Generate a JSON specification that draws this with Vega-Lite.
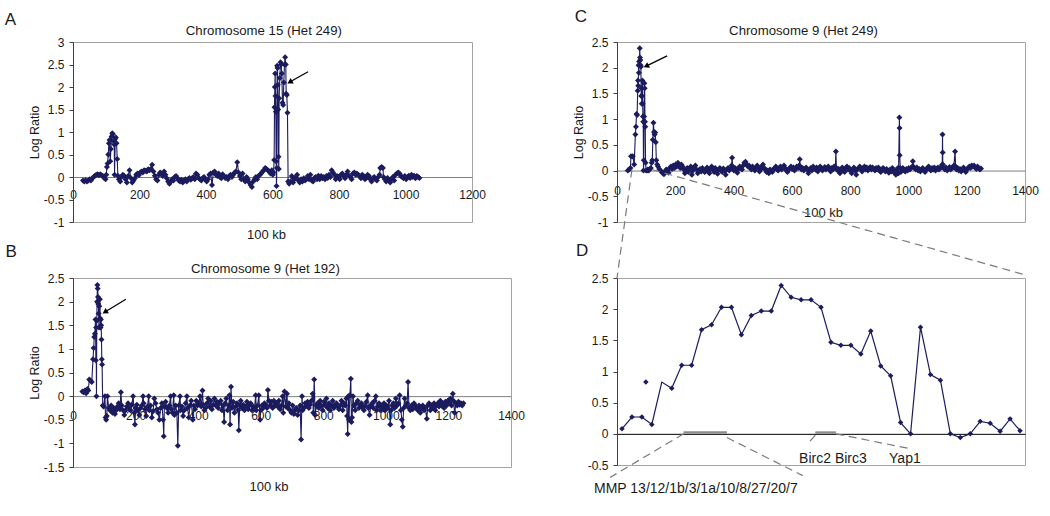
{
"$schema": "https://vega.github.io/schema/vega-lite/v6.json",
"padding": {"left": 4, "top": 7, "right": 5, "bottom": 5},
"config": {
  "font": "Liberation Sans",
  "locale": {"number": {"decimal": ".", "thousands": ",", "grouping": [3], "currency": ["$", ""], "minus": "-"}},
  "view": {"stroke": "#a3a3a3", "strokeWidth": 1},
  "axis": {"grid": false, "labelFontSize": 12, "titleFontSize": 12.5, "titleFontWeight": "normal", "labelColor": "#1a1a1a", "titleColor": "#1a1a1a"},
  "axisY": {"domainColor": "#404040", "tickColor": "#404040", "tickSize": 4, "labelPadding": 5, "titlePadding": 2, "labelOverlap": false, "labelBound": false, "format": "~g"},
  "axisX": {"ticks": false, "tickSize": 0, "domainColor": "#808080", "labelFlush": false, "labelOverlap": false, "titleFontSize": 13}
},
"datasets": {
"chr15_het249": [
{"x":30,"y":-0.08},{"x":34,"y":-0.1},{"x":38,"y":-0.07},{"x":42,"y":-0.1},{"x":46,"y":-0.08},{"x":50,"y":-0.05},{"x":54,"y":-0.08},{"x":58,"y":-0.03},{"x":62,"y":0},{"x":66,"y":0.03},{"x":70,"y":0.05},{"x":74,"y":0.06},{"x":78,"y":0.04},{"x":82,"y":0.06},{"x":86,"y":0.04},{"x":90,"y":0.02},{"x":94,"y":-0.02},{"x":98,"y":-0.05},{"x":100,"y":0.05},{"x":102,"y":0.22},{"x":104,"y":0.3},{"x":106,"y":0.5},{"x":108,"y":0.75},{"x":110,"y":0.82},{"x":112,"y":0.35},{"x":114,"y":0.62},{"x":116,"y":0.9},{"x":118,"y":0.97},{"x":120,"y":0.95},{"x":122,"y":0.8},{"x":124,"y":0.72},{"x":125,"y":0.05},{"x":127,"y":0.85},{"x":129,"y":0.88},{"x":131,"y":0.75},{"x":133,"y":0.4},{"x":135,"y":0.03},{"x":138,"y":-0.05},{"x":142,"y":-0.1},{"x":146,"y":0},{"x":150,"y":0.05},{"x":154,"y":0.02},{"x":158,"y":-0.05},{"x":162,"y":-0.12},{"x":166,"y":0.02},{"x":170,"y":0.15},{"x":174,"y":-0.02},{"x":178,"y":-0.12},{"x":182,"y":-0.08},{"x":186,"y":-0.03},{"x":190,"y":0.05},{"x":194,"y":0.08},{"x":198,"y":0.04},{"x":202,"y":0.1},{"x":206,"y":0.12},{"x":210,"y":0.1},{"x":214,"y":0.15},{"x":218,"y":0.14},{"x":222,"y":0.12},{"x":226,"y":0.17},{"x":230,"y":0.15},{"x":234,"y":0.18},{"x":238,"y":0.27},{"x":242,"y":0.12},{"x":246,"y":0.03},{"x":250,"y":-0.05},{"x":254,"y":-0.08},{"x":258,"y":0.05},{"x":262,"y":0.1},{"x":266,"y":0.08},{"x":270,"y":0.02},{"x":274,"y":0.12},{"x":278,"y":0.05},{"x":282,"y":-0.03},{"x":286,"y":-0.1},{"x":290,"y":-0.15},{"x":294,"y":-0.1},{"x":298,"y":-0.05},{"x":302,"y":-0.08},{"x":306,"y":0},{"x":310,"y":0.02},{"x":314,"y":-0.02},{"x":318,"y":-0.08},{"x":322,"y":-0.1},{"x":326,"y":-0.06},{"x":330,"y":-0.12},{"x":334,"y":-0.08},{"x":338,"y":-0.05},{"x":342,"y":-0.1},{"x":346,"y":-0.05},{"x":350,"y":-0.02},{"x":354,"y":-0.06},{"x":358,"y":-0.03},{"x":362,"y":0},{"x":366,"y":-0.05},{"x":370,"y":0.08},{"x":374,"y":0.05},{"x":378,"y":-0.02},{"x":382,"y":-0.05},{"x":386,"y":-0.08},{"x":390,"y":-0.03},{"x":394,"y":0},{"x":398,"y":-0.05},{"x":402,"y":-0.1},{"x":406,"y":-0.05},{"x":410,"y":0.05},{"x":414,"y":0.08},{"x":418,"y":-0.18},{"x":422,"y":0.1},{"x":426,"y":0.12},{"x":430,"y":0.05},{"x":434,"y":0.02},{"x":438,"y":0.08},{"x":442,"y":0},{"x":446,"y":-0.03},{"x":450,"y":0.06},{"x":454,"y":0.02},{"x":458,"y":-0.02},{"x":462,"y":0},{"x":466,"y":-0.05},{"x":470,"y":0.02},{"x":474,"y":0.05},{"x":478,"y":0},{"x":482,"y":0.05},{"x":486,"y":0.1},{"x":490,"y":0.12},{"x":494,"y":0.33},{"x":498,"y":0.1},{"x":502,"y":0.02},{"x":506,"y":-0.05},{"x":510,"y":0.08},{"x":514,"y":-0.05},{"x":518,"y":-0.1},{"x":522,"y":0},{"x":526,"y":-0.05},{"x":530,"y":-0.12},{"x":534,"y":-0.18},{"x":538,"y":-0.22},{"x":542,"y":-0.1},{"x":546,"y":-0.05},{"x":550,"y":0},{"x":554,"y":-0.05},{"x":558,"y":0.02},{"x":562,"y":0.05},{"x":566,"y":0.08},{"x":570,"y":0.12},{"x":574,"y":0.15},{"x":578,"y":0.2},{"x":582,"y":0.18},{"x":586,"y":0.15},{"x":590,"y":0.12},{"x":594,"y":0.08},{"x":598,"y":0.15},{"x":601,"y":0.05},{"x":603,"y":0.1},{"x":605,"y":0.38},{"x":606,"y":1.55},{"x":607,"y":2},{"x":608,"y":2.3},{"x":609,"y":1.8},{"x":610,"y":1.45},{"x":611,"y":0.35},{"x":612,"y":-0.2},{"x":613,"y":0.2},{"x":614,"y":2.47},{"x":615,"y":2.42},{"x":616,"y":2.05},{"x":617,"y":1.5},{"x":618,"y":0.45},{"x":619,"y":0.18},{"x":620,"y":1.75},{"x":622,"y":2.2},{"x":624,"y":2.55},{"x":626,"y":2.5},{"x":628,"y":2.3},{"x":630,"y":1.65},{"x":632,"y":1.6},{"x":634,"y":2.1},{"x":636,"y":2.5},{"x":638,"y":2.66},{"x":640,"y":2.5},{"x":641,"y":1.85},{"x":643,"y":1.82},{"x":645,"y":1.43},{"x":647,"y":-0.1},{"x":650,"y":-0.15},{"x":654,"y":-0.1},{"x":658,"y":0.02},{"x":662,"y":-0.12},{"x":666,"y":-0.05},{"x":670,"y":0},{"x":674,"y":0.05},{"x":678,"y":-0.08},{"x":682,"y":-0.12},{"x":686,"y":-0.05},{"x":690,"y":-0.1},{"x":694,"y":-0.03},{"x":698,"y":-0.08},{"x":702,"y":-0.05},{"x":706,"y":0.02},{"x":710,"y":-0.05},{"x":714,"y":0.05},{"x":718,"y":-0.08},{"x":722,"y":-0.1},{"x":726,"y":-0.02},{"x":730,"y":0},{"x":734,"y":-0.05},{"x":738,"y":0.03},{"x":742,"y":-0.05},{"x":746,"y":0.02},{"x":750,"y":-0.03},{"x":754,"y":0},{"x":758,"y":-0.05},{"x":762,"y":0.02},{"x":766,"y":-0.02},{"x":770,"y":0.05},{"x":774,"y":0},{"x":778,"y":0.15},{"x":782,"y":0.1},{"x":786,"y":0.05},{"x":790,"y":-0.05},{"x":794,"y":0.02},{"x":798,"y":0},{"x":802,"y":-0.05},{"x":806,"y":0.05},{"x":810,"y":0.08},{"x":814,"y":0.02},{"x":818,"y":-0.03},{"x":822,"y":0.05},{"x":826,"y":0.12},{"x":830,"y":0.03},{"x":834,"y":0},{"x":838,"y":-0.05},{"x":842,"y":0.08},{"x":846,"y":0.1},{"x":850,"y":0.05},{"x":854,"y":0.08},{"x":858,"y":0.05},{"x":862,"y":0.02},{"x":866,"y":-0.03},{"x":870,"y":0.05},{"x":874,"y":0.02},{"x":878,"y":-0.05},{"x":882,"y":-0.02},{"x":886,"y":0.05},{"x":890,"y":0.02},{"x":894,"y":-0.05},{"x":898,"y":-0.1},{"x":902,"y":-0.03},{"x":906,"y":0},{"x":910,"y":-0.05},{"x":914,"y":-0.08},{"x":918,"y":0},{"x":922,"y":0.05},{"x":924,"y":0.2},{"x":928,"y":0.22},{"x":932,"y":0.2},{"x":934,"y":0},{"x":938,"y":-0.05},{"x":942,"y":-0.1},{"x":946,"y":-0.02},{"x":950,"y":-0.08},{"x":954,"y":-0.12},{"x":958,"y":-0.05},{"x":962,"y":0},{"x":966,"y":-0.08},{"x":970,"y":0.05},{"x":974,"y":0.08},{"x":978,"y":0.1},{"x":982,"y":0.08},{"x":986,"y":0.02},{"x":990,"y":0},{"x":994,"y":-0.03},{"x":998,"y":0.02},{"x":1002,"y":-0.05},{"x":1006,"y":0},{"x":1010,"y":0.03},{"x":1014,"y":-0.02},{"x":1018,"y":0.05},{"x":1022,"y":0},{"x":1026,"y":0.03},{"x":1030,"y":-0.03},{"x":1034,"y":0.02},{"x":1038,"y":0},{"x":1042,"y":-0.02}
],
"chr9_het192": [
{"x":30,"y":0.1},{"x":34,"y":0.08},{"x":38,"y":0.12},{"x":42,"y":0.06},{"x":46,"y":0.15},{"x":49,"y":0.12},{"x":52,"y":0.35},{"x":56,"y":0.33},{"x":60,"y":0.3},{"x":64,"y":0.78},{"x":66,"y":1.02},{"x":68,"y":1.25},{"x":70,"y":1.32},{"x":72,"y":1.62},{"x":73,"y":0.76},{"x":74,"y":1.45},{"x":75,"y":0},{"x":76,"y":1.6},{"x":77,"y":2},{"x":78,"y":2.35},{"x":79,"y":2.28},{"x":80,"y":2.1},{"x":81,"y":1.95},{"x":82,"y":1.75},{"x":83,"y":1.45},{"x":84,"y":1.9},{"x":86,"y":2.05},{"x":87,"y":1.65},{"x":88,"y":1.45},{"x":89,"y":1.62},{"x":90,"y":1.5},{"x":91,"y":1.2},{"x":92,"y":0.78},{"x":93,"y":0.67},{"x":95,"y":-0.2},
{"x":98,"y":-0.22},{"x":102,"y":0},{"x":104,"y":-0.45},{"x":106,"y":-0.5},{"x":108,"y":-0.42},{"x":110,"y":0},{"x":114,"y":-0.25},{"x":118,"y":-0.3},{"x":122,"y":-0.2},{"x":126,"y":-0.35},{"x":130,"y":-0.25},{"x":134,"y":-0.38},{"x":138,"y":-0.3},{"x":142,"y":-0.22},{"x":146,"y":-0.15},{"x":150,"y":-0.28},{"x":153,"y":0.08},{"x":156,"y":-0.2},{"x":160,"y":-0.3},{"x":164,"y":-0.4},{"x":168,"y":-0.3},{"x":172,"y":-0.22},{"x":176,"y":-0.15},{"x":180,"y":-0.25},{"x":184,"y":-0.3},{"x":188,"y":-0.18},{"x":192,"y":0},{"x":196,"y":-0.35},{"x":198,"y":-0.6},{"x":200,"y":-0.25},{"x":204,"y":-0.18},{"x":208,"y":-0.3},{"x":212,"y":-0.4},{"x":216,"y":-0.25},{"x":220,"y":-0.2},{"x":224,"y":0},{"x":226,"y":-0.15},{"x":230,"y":-0.28},{"x":234,"y":-0.42},{"x":238,"y":-0.22},{"x":242,"y":0},{"x":244,"y":-0.3},{"x":248,"y":-0.2},{"x":252,"y":-0.45},{"x":256,"y":-0.32},{"x":260,"y":-0.05},{"x":264,"y":-0.15},{"x":268,"y":-0.28},{"x":272,"y":-0.35},{"x":276,"y":-0.5},{"x":280,"y":-0.25},{"x":284,"y":-0.15},{"x":288,"y":-0.5},{"x":290,"y":-0.85},{"x":292,"y":-0.22},{"x":296,"y":-0.12},{"x":300,"y":-0.25},{"x":304,"y":-0.35},{"x":308,"y":-0.2},{"x":312,"y":0},{"x":314,"y":-0.28},{"x":318,"y":-0.35},{"x":322,"y":0.02},{"x":324,"y":-0.4},{"x":328,"y":-0.2},{"x":332,"y":-0.35},{"x":335,"y":-1.05},{"x":338,"y":-0.2},{"x":342,"y":0},{"x":344,"y":-0.3},{"x":348,"y":-0.22},{"x":352,"y":-0.42},{"x":356,"y":-0.3},{"x":360,"y":-0.15},{"x":364,"y":0},{"x":366,"y":-0.25},{"x":370,"y":-0.45},{"x":374,"y":-0.2},{"x":378,"y":-0.1},{"x":383,"y":-0.5},{"x":386,"y":-0.2},{"x":390,"y":-0.28},{"x":394,"y":-0.1},{"x":398,"y":-0.2},{"x":402,"y":-0.15},{"x":406,"y":0},{"x":410,"y":-0.22},{"x":414,"y":0.12},{"x":416,"y":-0.18},{"x":420,"y":-0.3},{"x":424,"y":-0.25},{"x":428,"y":-0.15},{"x":432,"y":-0.05},{"x":436,"y":-0.22},{"x":440,"y":-0.1},{"x":444,"y":-0.28},{"x":448,"y":-0.18},{"x":452,"y":-0.05},{"x":456,"y":-0.2},{"x":460,"y":-0.12},{"x":464,"y":-0.25},{"x":468,"y":-0.15},{"x":472,"y":-0.1},{"x":476,"y":-0.3},{"x":480,"y":-0.2},{"x":483,"y":-0.55},{"x":486,"y":-0.15},{"x":490,"y":-0.05},{"x":494,"y":-0.3},{"x":498,"y":-0.2},{"x":500,"y":0.02},{"x":502,"y":-0.6},{"x":505,"y":0.2},{"x":508,"y":-0.25},{"x":512,"y":-0.12},{"x":516,"y":-0.35},{"x":520,"y":-0.22},{"x":524,"y":-0.15},{"x":528,"y":-0.3},{"x":530,"y":-0.72},{"x":533,"y":-0.2},{"x":536,"y":-0.1},{"x":540,"y":-0.25},{"x":544,"y":-0.18},{"x":548,"y":-0.3},{"x":552,"y":-0.22},{"x":556,"y":-0.12},{"x":560,"y":-0.28},{"x":564,"y":-0.2},{"x":568,"y":-0.15},{"x":572,"y":-0.3},{"x":576,"y":-0.22},{"x":580,"y":-0.25},{"x":584,"y":0.02},{"x":586,"y":-0.3},{"x":590,"y":-0.2},{"x":594,"y":0.02},{"x":598,"y":-0.5},{"x":600,"y":-0.3},{"x":604,"y":-0.2},{"x":608,"y":-0.25},{"x":612,"y":-0.15},{"x":616,"y":-0.2},{"x":620,"y":-0.25},{"x":623,"y":0.13},{"x":626,"y":-0.1},{"x":630,"y":-0.2},{"x":634,"y":-0.12},{"x":638,"y":-0.25},{"x":642,"y":-0.1},{"x":646,"y":-0.2},{"x":650,"y":-0.15},{"x":654,"y":-0.22},{"x":658,"y":-0.1},{"x":662,"y":-0.28},{"x":666,"y":-0.2},{"x":670,"y":0},{"x":672,"y":-0.35},{"x":676,"y":0.1},{"x":680,"y":-0.22},{"x":684,"y":0.05},{"x":686,"y":-0.25},{"x":690,"y":-0.15},{"x":694,"y":-0.3},{"x":698,"y":-0.35},{"x":702,"y":-0.2},{"x":706,"y":-0.38},{"x":710,"y":-0.3},{"x":714,"y":-0.25},{"x":718,"y":-0.4},{"x":722,"y":-0.3},{"x":726,"y":-0.2},{"x":729,"y":-0.92},{"x":732,"y":0},{"x":734,"y":-0.3},{"x":738,"y":-0.25},{"x":742,"y":-0.15},{"x":746,"y":-0.2},{"x":750,"y":-0.12},{"x":754,"y":-0.25},{"x":758,"y":-0.18},{"x":762,"y":-0.1},{"x":766,"y":0.05},{"x":768,"y":-0.35},{"x":771,"y":0.35},{"x":774,"y":-0.4},{"x":778,"y":-0.2},{"x":782,"y":-0.15},{"x":786,"y":-0.25},{"x":790,"y":-0.1},{"x":794,"y":-0.2},{"x":798,"y":-0.3},{"x":802,"y":-0.12},{"x":806,"y":-0.2},{"x":810,"y":-0.05},{"x":814,"y":-0.25},{"x":818,"y":-0.15},{"x":822,"y":-0.3},{"x":826,"y":-0.2},{"x":830,"y":-0.1},{"x":834,"y":-0.25},{"x":838,"y":-0.2},{"x":842,"y":-0.15},{"x":846,"y":-0.22},{"x":850,"y":-0.28},{"x":854,"y":-0.2},{"x":858,"y":-0.1},{"x":862,"y":-0.3},{"x":866,"y":-0.15},{"x":870,"y":-0.2},{"x":874,"y":-0.05},{"x":876,"y":-0.42},{"x":878,"y":-0.8},{"x":880,"y":0},{"x":882,"y":-0.5},{"x":885,"y":0.02},{"x":888,"y":0.37},{"x":890,"y":-0.55},{"x":892,"y":-0.45},{"x":895,"y":0},{"x":898,"y":-0.2},{"x":902,"y":-0.3},{"x":906,"y":-0.15},{"x":910,"y":-0.1},{"x":914,"y":-0.25},{"x":918,"y":-0.2},{"x":922,"y":-0.15},{"x":926,"y":-0.25},{"x":930,"y":-0.3},{"x":934,"y":-0.2},{"x":938,"y":-0.12},{"x":942,"y":0.02},{"x":944,"y":-0.25},{"x":948,"y":-0.4},{"x":952,"y":-0.2},{"x":956,"y":-0.15},{"x":960,"y":-0.25},{"x":964,"y":-0.1},{"x":968,"y":0},{"x":970,"y":-0.3},{"x":974,"y":-0.22},{"x":978,"y":-0.15},{"x":982,"y":-0.3},{"x":986,"y":-0.2},{"x":990,"y":-0.25},{"x":994,"y":-0.15},{"x":998,"y":-0.3},{"x":1002,"y":-0.2},{"x":1006,"y":-0.25},{"x":1010,"y":-0.1},{"x":1014,"y":-0.6},{"x":1017,"y":-0.3},{"x":1020,"y":-0.2},{"x":1024,"y":-0.15},{"x":1028,"y":-0.25},{"x":1032,"y":-0.05},{"x":1036,"y":-0.2},{"x":1040,"y":-0.15},{"x":1044,"y":0.02},{"x":1048,"y":-0.3},{"x":1051,"y":-0.5},{"x":1054,"y":-0.65},{"x":1057,"y":-0.25},{"x":1060,"y":-0.05},{"x":1064,"y":-0.2},{"x":1068,"y":-0.15},{"x":1071,"y":0.3},{"x":1074,"y":-0.25},{"x":1078,"y":-0.3},{"x":1082,"y":-0.2},{"x":1086,"y":-0.28},{"x":1090,"y":-0.15},{"x":1094,"y":-0.2},{"x":1098,"y":-0.25},{"x":1102,"y":-0.3},{"x":1106,"y":-0.2},{"x":1110,"y":-0.35},{"x":1114,"y":-0.25},{"x":1118,"y":-0.2},{"x":1122,"y":-0.3},{"x":1126,"y":-0.25},{"x":1131,"y":-0.48},{"x":1134,"y":-0.2},{"x":1138,"y":-0.15},{"x":1142,"y":-0.3},{"x":1146,"y":-0.2},{"x":1150,"y":-0.25},{"x":1154,"y":-0.15},{"x":1158,"y":-0.3},{"x":1162,"y":-0.2},{"x":1166,"y":-0.15},{"x":1170,"y":-0.22},{"x":1174,"y":-0.1},{"x":1178,"y":-0.2},{"x":1182,"y":-0.15},{"x":1186,"y":-0.25},{"x":1190,"y":-0.12},{"x":1194,"y":-0.2},{"x":1198,"y":-0.1},{"x":1202,"y":-0.15},{"x":1206,"y":-0.05},{"x":1210,"y":-0.2},{"x":1214,"y":0.05},{"x":1216,"y":-0.1},{"x":1220,"y":-0.35},{"x":1224,"y":-0.15},{"x":1228,"y":-0.2},{"x":1232,"y":-0.12},{"x":1236,"y":-0.18},{"x":1240,"y":-0.15},{"x":1244,"y":-0.2},{"x":1248,"y":-0.15}
],
"chr9_het249": [
{"x":37,"y":0},{"x":42,"y":0.02},{"x":46,"y":0.05},{"x":48,"y":0.28},{"x":54,"y":0.28},{"x":59,"y":0.12},{"x":63,"y":0.7},{"x":65,"y":0.85},{"x":67,"y":1.1},{"x":69,"y":1.08},{"x":71,"y":1.55},{"x":72,"y":1.75},{"x":73,"y":1.65},{"x":74,"y":2.05},{"x":75,"y":1.9},{"x":76,"y":2.12},{"x":77,"y":2.05},{"x":78,"y":2.38},{"x":79,"y":2.2},{"x":80,"y":2.15},{"x":81,"y":2.05},{"x":82,"y":2.02},{"x":83,"y":1.45},{"x":84,"y":1.6},{"x":85,"y":1.3},{"x":86,"y":1.45},{"x":87,"y":1.75},{"x":88,"y":1.3},{"x":89,"y":1.05},{"x":90,"y":0.95},{"x":91,"y":0},{"x":92,"y":0.2},{"x":93,"y":1.05},{"x":94,"y":1.7},{"x":95,"y":1.6},{"x":96,"y":0.95},{"x":97,"y":0.85},{"x":98,"y":0.15},{"x":100,"y":0},{"x":103,"y":0},{"x":106,"y":0.02},{"x":109,"y":0},{"x":112,"y":0.03},{"x":116,"y":0.05},{"x":119,"y":0.15},{"x":121,"y":0.2},{"x":123,"y":0.6},{"x":125,"y":0.93},{"x":127,"y":0.75},{"x":129,"y":0.7},{"x":131,"y":0.74},{"x":133,"y":0.55},{"x":135,"y":0.2},{"x":138,"y":0.12},{"x":141,"y":0.08},{"x":145,"y":0.03},{"x":149,"y":0},{"x":153,"y":-0.03},{"x":157,"y":-0.05},{"x":161,"y":-0.07},{"x":165,"y":-0.02},
{"x":169,"y":0.02},{"x":173,"y":0},{"x":177,"y":-0.04},{"x":181,"y":0.05},{"x":185,"y":0.08},{"x":189,"y":0.03},{"x":193,"y":0.1},{"x":197,"y":0.05},{"x":201,"y":0.12},{"x":205,"y":0.08},{"x":209,"y":0.15},{"x":213,"y":0.1},{"x":217,"y":0.05},{"x":221,"y":0.12},{"x":225,"y":0.08},{"x":229,"y":0.02},{"x":233,"y":-0.05},{"x":237,"y":0},{"x":241,"y":0.05},{"x":245,"y":-0.03},{"x":249,"y":0.02},{"x":253,"y":0.08},{"x":257,"y":-0.08},{"x":261,"y":0},{"x":265,"y":0.05},{"x":269,"y":0.1},{"x":273,"y":0.02},{"x":277,"y":-0.05},{"x":281,"y":0},{"x":285,"y":0.03},{"x":289,"y":-0.02},{"x":293,"y":0.05},{"x":297,"y":0},{"x":301,"y":-0.03},{"x":305,"y":0.02},{"x":309,"y":0.06},{"x":313,"y":0},{"x":317,"y":-0.05},{"x":321,"y":0.03},{"x":325,"y":0.08},{"x":329,"y":0.02},{"x":333,"y":-0.03},{"x":337,"y":0.05},{"x":341,"y":0},{"x":345,"y":-0.06},{"x":349,"y":0.02},{"x":353,"y":0.05},{"x":357,"y":0},{"x":361,"y":-0.03},{"x":365,"y":0.04},{"x":369,"y":0},{"x":373,"y":-0.08},{"x":377,"y":0.02},{"x":381,"y":0.05},{"x":385,"y":0},{"x":389,"y":0.03},{"x":393,"y":0.1},{"x":395,"y":0.25},{"x":397,"y":0.08},{"x":401,"y":0},{"x":405,"y":0.05},{"x":409,"y":0.02},{"x":413,"y":-0.04},{"x":417,"y":0.03},{"x":421,"y":0.08},{"x":425,"y":0.05},{"x":429,"y":0.02},{"x":433,"y":0.1},{"x":437,"y":0.15},{"x":441,"y":0.17},{"x":445,"y":0.12},{"x":449,"y":0.08},{"x":453,"y":0.1},{"x":457,"y":0.05},{"x":461,"y":0.02},{"x":465,"y":0.08},{"x":469,"y":0.04},{"x":473,"y":0},{"x":477,"y":0.05},{"x":481,"y":0.1},{"x":485,"y":0.05},{"x":489,"y":-0.02},{"x":493,"y":0.02},{"x":497,"y":0.08},{"x":501,"y":0.12},{"x":505,"y":0.05},{"x":509,"y":0.02},{"x":513,"y":-0.03},{"x":517,"y":0},{"x":521,"y":-0.05},{"x":525,"y":0.02},{"x":529,"y":0},{"x":533,"y":-0.03},{"x":537,"y":0.02},{"x":541,"y":0.05},{"x":545,"y":0.08},{"x":549,"y":0.02},{"x":553,"y":0},{"x":557,"y":0.05},{"x":561,"y":0.08},{"x":565,"y":0.02},{"x":569,"y":0.06},{"x":573,"y":0.1},{"x":577,"y":0.05},{"x":581,"y":0},{"x":585,"y":-0.03},{"x":589,"y":0.02},{"x":593,"y":0.05},{"x":597,"y":0.08},{"x":601,"y":0.03},{"x":605,"y":0.06},{"x":609,"y":0},{"x":613,"y":0.05},{"x":617,"y":0.08},{"x":621,"y":0.05},{"x":625,"y":0.1},{"x":627,"y":0.22},{"x":629,"y":0.08},{"x":633,"y":0.02},{"x":637,"y":0.05},{"x":641,"y":0},{"x":645,"y":0.03},{"x":649,"y":0.06},{"x":653,"y":0.02},{"x":657,"y":-0.05},{"x":661,"y":0.02},{"x":665,"y":0.05},{"x":669,"y":0},{"x":673,"y":0.08},{"x":677,"y":0.05},{"x":681,"y":0.02},{"x":685,"y":0.06},{"x":689,"y":-0.02},{"x":693,"y":0.03},{"x":697,"y":0.08},{"x":701,"y":0.05},{"x":705,"y":0},{"x":709,"y":0.04},{"x":713,"y":0.07},{"x":717,"y":0.02},{"x":721,"y":0.05},{"x":725,"y":0.08},{"x":729,"y":0.03},{"x":733,"y":-0.02},{"x":737,"y":0.05},{"x":741,"y":0.02},{"x":745,"y":0.08},{"x":749,"y":0.05},{"x":751,"y":0.37},{"x":753,"y":0.05},{"x":757,"y":0},{"x":761,"y":0.03},{"x":765,"y":-0.05},{"x":769,"y":0.02},{"x":773,"y":0.06},{"x":777,"y":0},{"x":781,"y":-0.03},{"x":785,"y":0.05},{"x":789,"y":0.08},{"x":793,"y":0.02},{"x":797,"y":0.05},{"x":801,"y":0},{"x":805,"y":-0.05},{"x":809,"y":0.02},{"x":813,"y":0.06},{"x":817,"y":0},{"x":821,"y":-0.08},{"x":825,"y":0.02},{"x":829,"y":0.05},{"x":833,"y":0.08},{"x":837,"y":0.03},{"x":841,"y":-0.02},{"x":845,"y":0.05},{"x":849,"y":0.08},{"x":853,"y":0.02},{"x":857,"y":0.06},{"x":861,"y":0},{"x":865,"y":0.04},{"x":869,"y":0.07},{"x":873,"y":0.02},{"x":877,"y":0.06},{"x":881,"y":0.03},{"x":885,"y":0},{"x":889,"y":0.05},{"x":893,"y":0.02},{"x":897,"y":0.06},{"x":901,"y":0},{"x":905,"y":-0.03},{"x":909,"y":0.02},{"x":913,"y":0.05},{"x":917,"y":0.02},{"x":921,"y":-0.02},{"x":925,"y":0.03},{"x":929,"y":0},{"x":933,"y":-0.04},{"x":937,"y":0.02},{"x":941,"y":-0.02},{"x":945,"y":0.05},{"x":949,"y":0},{"x":953,"y":-0.05},{"x":957,"y":-0.08},{"x":961,"y":0.02},{"x":964,"y":0.05},{"x":966,"y":-0.05},{"x":969,"y":1.03},{"x":969.5,"y":0.83},{"x":970,"y":0.3},{"x":972,"y":0.05},{"x":974,"y":-0.03},{"x":977,"y":0.02},{"x":981,"y":0.05},{"x":985,"y":0},{"x":989,"y":-0.02},{"x":993,"y":0.03},{"x":997,"y":0},{"x":1001,"y":0.05},{"x":1005,"y":0.02},{"x":1009,"y":0.05},{"x":1013,"y":0.08},{"x":1015,"y":0.18},{"x":1017,"y":0.08},{"x":1021,"y":0.05},{"x":1025,"y":0.02},{"x":1029,"y":0.06},{"x":1033,"y":0},{"x":1037,"y":0.03},{"x":1041,"y":-0.02},{"x":1045,"y":0.02},{"x":1049,"y":0.05},{"x":1053,"y":0},{"x":1057,"y":-0.03},{"x":1061,"y":0.02},{"x":1065,"y":0.05},{"x":1069,"y":0.08},{"x":1073,"y":0.03},{"x":1077,"y":0},{"x":1081,"y":0.05},{"x":1085,"y":0.02},{"x":1089,"y":0.06},{"x":1093,"y":0},{"x":1097,"y":0.03},{"x":1101,"y":0.06},{"x":1105,"y":0.02},{"x":1109,"y":0.05},{"x":1113,"y":0.08},{"x":1116,"y":0.12},{"x":1117,"y":0.7},{"x":1117.5,"y":0.35},{"x":1118,"y":0.12},{"x":1121,"y":0.05},{"x":1125,"y":0.02},{"x":1129,"y":0.06},{"x":1133,"y":0},{"x":1137,"y":0.03},{"x":1141,"y":0.07},{"x":1145,"y":0.02},{"x":1149,"y":0.05},{"x":1153,"y":0.06},{"x":1156,"y":0.1},{"x":1160,"y":0.37},{"x":1162,"y":0.08},{"x":1165,"y":0.02},{"x":1169,"y":0.05},{"x":1173,"y":0},{"x":1177,"y":0.03},{"x":1181,"y":-0.02},{"x":1185,"y":0.02},{"x":1189,"y":0.06},{"x":1193,"y":0.02},{"x":1197,"y":-0.03},{"x":1201,"y":0.02},{"x":1205,"y":0.05},{"x":1209,"y":0.08},{"x":1213,"y":0.05},{"x":1217,"y":0.1},{"x":1221,"y":0.08},{"x":1225,"y":0.1},{"x":1229,"y":0.06},{"x":1233,"y":0.03},{"x":1237,"y":0.08},{"x":1241,"y":0.05},{"x":1245,"y":0.02},{"x":1249,"y":0.04}
],
"chr9_het249_zoom": [
{"i":1,"y":0.08,"s":"main"},{"i":2,"y":0.27,"s":"main"},{"i":3,"y":0.27,"s":"main"},{"i":4,"y":0.15,"s":"main"},{"i":5,"y":0.83,"s":"main"},{"i":6,"y":0.73,"s":"main"},{"i":7,"y":1.1,"s":"main"},{"i":8,"y":1.1,"s":"main"},{"i":9,"y":1.67,"s":"main"},{"i":10,"y":1.75,"s":"main"},{"i":11,"y":2.03,"s":"main"},{"i":12,"y":2.03,"s":"main"},{"i":13,"y":1.59,"s":"main"},{"i":14,"y":1.9,"s":"main"},{"i":15,"y":1.97,"s":"main"},{"i":16,"y":1.97,"s":"main"},{"i":17,"y":2.38,"s":"main"},{"i":18,"y":2.19,"s":"main"},{"i":19,"y":2.15,"s":"main"},{"i":20,"y":2.15,"s":"main"},{"i":21,"y":2.03,"s":"main"},{"i":22,"y":1.47,"s":"main"},{"i":23,"y":1.42,"s":"main"},{"i":24,"y":1.42,"s":"main"},{"i":25,"y":1.28,"s":"main"},{"i":26,"y":1.65,"s":"main"},{"i":27,"y":1.09,"s":"main"},{"i":28,"y":0.93,"s":"main"},{"i":29,"y":0.18,"s":"main"},{"i":30,"y":0,"s":"main"},{"i":31,"y":1.71,"s":"main"},{"i":32,"y":0.95,"s":"main"},{"i":33,"y":0.86,"s":"main"},{"i":34,"y":0,"s":"main"},{"i":35,"y":-0.06,"s":"main"},{"i":36,"y":0,"s":"main"},{"i":37,"y":0.2,"s":"main"},{"i":38,"y":0.17,"s":"main"},{"i":39,"y":0.04,"s":"main"},{"i":40,"y":0.24,"s":"main"},{"i":41,"y":0.05,"s":"main"},
{"i":3.4,"y":0.83,"s":"extra"}
],
"zoom_links": [
{"x":7.19,"y":0,"x2":-0.2,"y2":-0.7},
{"x":11.55,"y":-0.06,"x2":19.16,"y2":-0.67},
{"x":20.43,"y":-0.02,"x2":19.67,"y2":-0.16},
{"x":22.5,"y":0,"x2":29.7,"y2":-0.23},
{"x":2.0,"y":4.24,"x2":0.5,"y2":2.5},
{"x":4.02,"y":4.24,"x2":41.5,"y2":2.55}
],
"gene_spans": [
{"gene":"MMP","start":7.19,"end":11.55},
{"gene":"Birc2/Birc3","start":20.43,"end":22.5}
],
"gene_labels": [
{"t":"MMP 13/12/1b/3/1a/10/8/27/20/7","x":-1.81,"y":-0.95},
{"t":"Birc2 Birc3","x":18.8,"y":-0.47},
{"t":"Yap1","x":27.84,"y":-0.47}
]
},
"columns": 2,
"bounds": "flush",
"align": "each",
"spacing": {"row": 56, "column": 106},
"concat": [
{
 "width": 399, "height": 180,
 "layer": [
  {"data": {"name": "chr15_het249"}, "mark": {"type": "line", "color": "#1b1b5e", "strokeWidth": 1.1},
   "encoding": {
    "x": {"field": "x", "type": "quantitative", "scale": {"domain": [0, 1200], "nice": false, "zero": false},
          "axis": {"values": [0,200,400,600,800,1000,1200], "format": "d", "offset": -45, "labelPadding": 12, "title": "100 kb", "titleX": 193, "titleY": 57, "titleBaseline": "middle"}},
    "y": {"field": "y", "type": "quantitative", "scale": {"domain": [-1, 3], "nice": false, "zero": false},
          "axis": {"tickCount": 8, "labelOverlap": false, "title": "Log Ratio"}}
   }},
  {"data": {"name": "chr15_het249"}, "mark": {"type": "point", "shape": "diamond", "filled": true, "size": 36, "color": "#1b1b5e", "opacity": 1},
   "encoding": {"x": {"field": "x", "type": "quantitative"}, "y": {"field": "y", "type": "quantitative"}}},
  {"data": {"values": [{"note": "arrow"}]}, "mark": {"type": "rule", "color": "#000000", "strokeWidth": 1.3}, "encoding": {"x": {"datum": 707}, "y": {"datum": 2.34}, "x2": {"datum": 652}, "y2": {"datum": 2.11}}},
  {"data": {"values": [{"note": "arrowhead"}]}, "mark": {"type": "point", "shape": "triangle-up", "filled": true, "size": 40, "color": "#000000", "angle": 241, "opacity": 1}, "encoding": {"x": {"datum": 652}, "y": {"datum": 2.11}}},
  {"data": {"values": [{"t": "Chromosome 15 (Het 249)"}]}, "mark": {"type": "text", "fontSize": 13.2, "baseline": "middle", "color": "#1a1a1a"}, "encoding": {"x": {"datum": 574}, "y": {"datum": 3.246}, "text": {"field": "t"}}},
  {"data": {"values": [{"t": "A"}]}, "mark": {"type": "text", "fontSize": 17, "baseline": "middle", "color": "#1a1a1a"}, "encoding": {"x": {"datum": -188}, "y": {"datum": 3.49}, "text": {"field": "t"}}}
 ]
},
{
 "width": 408, "height": 180,
 "layer": [
  {"data": {"name": "chr9_het249"}, "mark": {"type": "line", "color": "#1b1b5e", "strokeWidth": 1.1},
   "encoding": {
    "x": {"field": "x", "type": "quantitative", "scale": {"domain": [0, 1400], "nice": false, "zero": false},
          "axis": {"values": [0,200,400,600,800,1000,1200,1400], "format": "d", "offset": -51.43, "labelPadding": 15, "title": "100 kb", "titleX": 206, "titleY": 41.6, "titleBaseline": "middle"}},
    "y": {"field": "y", "type": "quantitative", "scale": {"domain": [-1, 2.5], "nice": false, "zero": false},
          "axis": {"tickCount": 7, "labelOverlap": false, "title": "Log Ratio"}}
   }},
  {"data": {"name": "chr9_het249"}, "mark": {"type": "point", "shape": "diamond", "filled": true, "size": 36, "color": "#1b1b5e", "opacity": 1},
   "encoding": {"x": {"field": "x", "type": "quantitative"}, "y": {"field": "y", "type": "quantitative"}}},
  {"data": {"values": [{"note": "arrow"}]}, "mark": {"type": "rule", "color": "#000000", "strokeWidth": 1.3}, "encoding": {"x": {"datum": 172}, "y": {"datum": 2.23}, "x2": {"datum": 100}, "y2": {"datum": 2.03}}},
  {"data": {"values": [{"note": "arrowhead"}]}, "mark": {"type": "point", "shape": "triangle-up", "filled": true, "size": 40, "color": "#000000", "angle": 244, "opacity": 1}, "encoding": {"x": {"datum": 100}, "y": {"datum": 2.03}}},
  {"data": {"values": [{"t": "Chromosome 9 (Het 249)"}]}, "mark": {"type": "text", "fontSize": 13.2, "baseline": "middle", "color": "#1a1a1a"}, "encoding": {"x": {"datum": 640}, "y": {"datum": 2.72}, "text": {"field": "t"}}},
  {"data": {"values": [{"t": "C"}]}, "mark": {"type": "text", "fontSize": 17, "baseline": "middle", "color": "#1a1a1a"}, "encoding": {"x": {"datum": -124}, "y": {"datum": 2.98}, "text": {"field": "t"}}}
 ]
},
{
 "width": 438, "height": 189,
 "layer": [
  {"data": {"name": "chr9_het192"}, "mark": {"type": "line", "color": "#1b1b5e", "strokeWidth": 1.1},
   "encoding": {
    "x": {"field": "x", "type": "quantitative", "scale": {"domain": [0, 1400], "nice": false, "zero": false},
          "axis": {"values": [0,200,400,600,800,1000,1200,1400], "format": "d", "offset": -70.875, "labelPadding": 14, "title": "100 kb", "titleX": 195.5, "titleY": 90, "titleBaseline": "middle"}},
    "y": {"field": "y", "type": "quantitative", "scale": {"domain": [-1.5, 2.5], "nice": false, "zero": false},
          "axis": {"tickCount": 8, "labelOverlap": false, "title": "Log Ratio"}}
   }},
  {"data": {"name": "chr9_het192"}, "mark": {"type": "point", "shape": "diamond", "filled": true, "size": 36, "color": "#1b1b5e", "opacity": 1},
   "encoding": {"x": {"field": "x", "type": "quantitative"}, "y": {"field": "y", "type": "quantitative"}}},
  {"data": {"values": [{"note": "arrow"}]}, "mark": {"type": "rule", "color": "#000000", "strokeWidth": 1.3}, "encoding": {"x": {"datum": 169}, "y": {"datum": 2.05}, "x2": {"datum": 102}, "y2": {"datum": 1.78}}},
  {"data": {"values": [{"note": "arrowhead"}]}, "mark": {"type": "point", "shape": "triangle-up", "filled": true, "size": 40, "color": "#000000", "angle": 238, "opacity": 1}, "encoding": {"x": {"datum": 102}, "y": {"datum": 1.78}}},
  {"data": {"values": [{"t": "Chromosome 9 (Het 192)"}]}, "mark": {"type": "text", "fontSize": 13.2, "baseline": "middle", "color": "#1a1a1a"}, "encoding": {"x": {"datum": 615}, "y": {"datum": 2.7}, "text": {"field": "t"}}},
  {"data": {"values": [{"t": "B"}]}, "mark": {"type": "text", "fontSize": 17, "baseline": "middle", "color": "#1a1a1a"}, "encoding": {"x": {"datum": -198}, "y": {"datum": 3.04}, "text": {"field": "t"}}}
 ]
},
{
 "width": 408, "height": 187,
 "layer": [
  {"data": {"name": "zoom_links"}, "mark": {"type": "rule", "color": "#7a7a7a", "strokeWidth": 1.2, "strokeDash": [8, 5]},
   "encoding": {"x": {"field": "x", "type": "quantitative", "title": null}, "y": {"field": "y", "type": "quantitative", "title": null}, "x2": {"field": "x2"}, "y2": {"field": "y2"}}},
  {"data": {"name": "gene_spans"}, "mark": {"type": "rule", "color": "#8c8c8c", "strokeWidth": 2.5},
   "encoding": {"x": {"field": "start", "type": "quantitative", "title": null}, "x2": {"field": "end"}, "y": {"datum": 0.02}}},
  {"data": {"name": "chr9_het249_zoom"}, "transform": [{"filter": "datum.s == 'main'"}], "mark": {"type": "line", "color": "#1b1b5e", "strokeWidth": 1.2},
   "encoding": {
    "x": {"field": "i", "type": "quantitative", "scale": {"domain": [0.5, 41.5], "nice": false, "zero": false},
          "axis": {"offset": -31.17, "labels": false, "title": null, "domainColor": "#000000"}},
    "y": {"field": "y", "type": "quantitative", "scale": {"domain": [-0.5, 2.5], "nice": false, "zero": false},
          "axis": {"tickCount": 6, "labelOverlap": false, "title": "Log Ratio"}}
   }},
  {"data": {"name": "chr9_het249_zoom"}, "transform": [{"filter": "datum.i != 5"}], "mark": {"type": "point", "shape": "diamond", "filled": true, "size": 30, "color": "#1b1b5e", "opacity": 1},
   "encoding": {"x": {"field": "i", "type": "quantitative"}, "y": {"field": "y", "type": "quantitative"}}},
  {"data": {"name": "gene_labels"}, "mark": {"type": "text", "align": "left", "baseline": "alphabetic", "fontSize": 14, "color": "#1a1a1a"},
   "encoding": {"x": {"field": "x", "type": "quantitative", "title": null}, "y": {"field": "y", "type": "quantitative", "title": null}, "text": {"field": "t"}}},
  {"data": {"values": [{"t": "D"}]}, "mark": {"type": "text", "fontSize": 17, "baseline": "middle", "color": "#1a1a1a"}, "encoding": {"x": {"datum": -3.0}, "y": {"datum": 2.93}, "text": {"field": "t"}}}
 ]
}
]
}
